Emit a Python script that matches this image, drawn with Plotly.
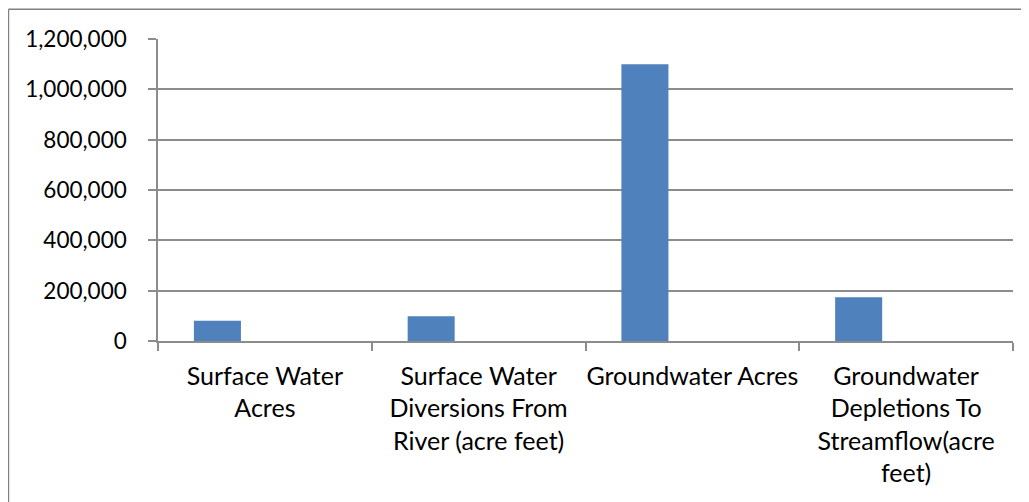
import plotly.graph_objects as go

categories = ["Surface Water Acres",
              "Surface Water Diversions From River (acre feet)",
              "Groundwater Acres",
              "Groundwater Depletions To Streamflow(acre feet)"]
tick_labels = ["Surface Water<br>Acres",
               "Surface Water<br>Diversions From<br>River (acre feet)",
               "Groundwater Acres",
               "Groundwater<br>Depletions To<br>Streamflow(acre<br>feet)"]
values = [80000, 98000, 1100000, 174000]
y_ticks = [0, 200000, 400000, 600000, 800000, 1000000, 1200000]

# page body has an 8px margin, so the figure is drawn from (8, 8)
W, H = 1021, 494
L, T = 150, 31.3
pw, ph = 854.7, 301.4
R = W - L - pw
B = H - T - ph

FONT = "Lato"
GRID = "#8c8c8c"

fig = go.Figure()
fig.add_trace(go.Bar(
    x=categories, y=values,
    marker=dict(color="#4F81BD", line=dict(width=0)),
    width=0.22, offset=-0.332,
    showlegend=False,
))

def px_to_paper_x(px):
    return (px - L) / pw

def px_to_paper_y(py):
    return (H - B - py) / ph

fig.update_layout(
    width=W, height=H,
    margin=dict(l=L, r=R, t=T, b=B, pad=0),
    paper_bgcolor="white", plot_bgcolor="white",
    font=dict(family=FONT, size=22, color="#000000"),
    xaxis=dict(
        type="category",
        categoryorder="array", categoryarray=categories,
        tickmode="array", tickvals=categories, ticktext=tick_labels,
        tickson="boundaries",
        ticks="outside", ticklen=8, tickcolor=GRID, tickwidth=1.5,
        showline=True, linecolor=GRID, linewidth=1.5,
        showgrid=False, range=[-0.5, 3.5],
        tickfont=dict(family=FONT, size=25),
        tickangle=0,
        ticklabelstandoff=12,
    ),
    yaxis=dict(
        range=[0, 1200000],
        tickmode="array", tickvals=y_ticks,
        tickformat=",d",
        ticks="outside", ticklen=8, tickcolor=GRID, tickwidth=1.5,
        showline=True, linecolor=GRID, linewidth=1.5,
        showgrid=True, gridcolor=GRID, gridwidth=1.5,
        zeroline=False,
        tickfont=dict(family=FONT, size=22.5),
        ticklabelstandoff=17,
    ),
    shapes=[
        dict(type="line", xref="paper", yref="paper",
             x0=px_to_paper_x(0.5), x1=px_to_paper_x(1040),
             y0=px_to_paper_y(1.5), y1=px_to_paper_y(1.5),
             line=dict(color="#808080", width=1.5)),
        dict(type="line", xref="paper", yref="paper",
             x0=px_to_paper_x(0.5), x1=px_to_paper_x(0.5),
             y0=px_to_paper_y(1.5), y1=px_to_paper_y(520),
             line=dict(color="#808080", width=1.5)),
    ],
)

fig.write_html("out.html")
